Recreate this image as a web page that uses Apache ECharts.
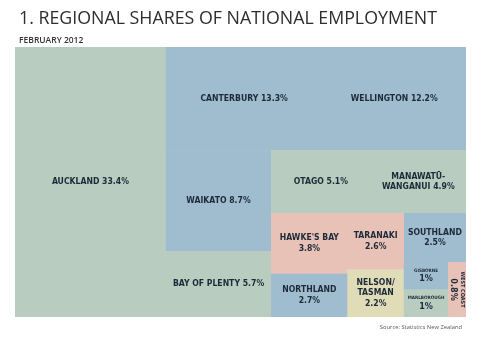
<!DOCTYPE html>
<html>
<head>
<meta charset="utf-8">
<script src="https://cdn.jsdelivr.net/npm/echarts@6/dist/echarts.min.js"></script>
<style>
html,body{margin:0;padding:0;background:#fff;}
#chart{width:495px;height:349px;}
</style>
</head>
<body>
<div id="chart"></div>
<script>
// ---- data ----
const regions = ['AUCKLAND', 'CANTERBURY', 'WELLINGTON', 'WAIKATO', 'BAY OF PLENTY', 'OTAGO',
  'MANAWATŪ-\nWANGANUI', "HAWKE'S BAY", 'NORTHLAND', 'TARANAKI', 'NELSON/\nTASMAN', 'SOUTHLAND',
  'GISBORNE', 'MARLBOROUGH', 'WEST COAST'];
const shares = [33.4, 13.3, 12.2, 8.7, 5.7, 5.1, 4.9, 3.8, 2.7, 2.6, 2.2, 2.5, 1, 1, 0.8];
const valueSep = [' ', ' ', ' ', ' ', ' ', ' ', ' ', '\n', '\n', '\n', '\n', '\n', '\n', '\n', '\n'];
const colourGroup = ['green', 'blue', 'blue', 'blue', 'green', 'green', 'green', 'pink', 'blue',
  'pink', 'yellow', 'blue', 'blue', 'green', 'pink'];
// nesting of regions (indices) that the treemap lays out
const nesting = [0, [[1, 2], [[3, 4], [[5, 6], [[[7, 8], [9, 10]], [11, [12, 13, 14]]]]]]];

const palette = { green: '#b8ccc0', blue: '#9fbdcf', pink: '#e8c2b7', yellow: '#e0dcb7' };
const FONT = 'Liberation Sans Narrow, DejaVu Sans Condensed, sans-serif';
const LH = 10.5;              // line height of plain labels
const SMALL_LH = 6, VAL_LH = 10, WC_LH = 7;

function leaf(i) {
  const name = regions[i];
  let blockH;
  if (name === 'GISBORNE' || name === 'MARLBOROUGH') blockH = SMALL_LH + VAL_LH;
  else if (name === 'WEST COAST') blockH = WC_LH + VAL_LH;
  else blockH = (name + valueSep[i]).split('\n').length * LH;
  const col = palette[colourGroup[i]];
  const node = {
    name: name,
    value: shares[i],
    itemStyle: { color: col, borderColor: col },
    label: {
      offset: [0, -blockH / 2],
      formatter: function (p) {
        if (p.name === 'GISBORNE' || p.name === 'MARLBOROUGH') return '{s|' + p.name + '}\n{v|' + p.value + '%}';
        if (p.name === 'WEST COAST') return '{w|' + p.name + '}\n{v|' + p.value + '%}';
        return p.name + valueSep[i] + p.value + '%';
      }
    }
  };
  if (name === 'WEST COAST') node.label.rotate = -90;
  return node;
}
function build(spec) {
  if (typeof spec === 'number') return leaf(spec);
  return { name: '', children: spec.map(build) };
}
const treeData = nesting.map(build);

const chart = echarts.init(document.getElementById('chart'), null, { renderer: 'canvas' });
chart.setOption({
  animation: false,
  title: [
    { text: '1. REGIONAL SHARES OF NATIONAL EMPLOYMENT', left: 14, top: 5,
      textStyle: { fontFamily: 'Open Sans', fontWeight: 'normal', fontSize: 17.8, color: '#2e2e2e' } },
    { text: 'FEBRUARY 2012', left: 14, top: 31,
      textStyle: { fontFamily: 'Open Sans', fontWeight: 600, fontSize: 8.5, color: '#333' } },
    { text: 'Source: Statistics New Zealand', right: 28, top: 319,
      textStyle: { fontFamily: 'Open Sans', fontWeight: 'normal', fontSize: 5.8, color: '#555' } }
  ],
  series: [{
    type: 'treemap',
    left: 15, top: 47, width: 451, height: 270,
    roam: false,
    nodeClick: false,
    sort: false,
    squareRatio: 1.33,
    breadcrumb: { show: false },
    visibleMin: 0,
    itemStyle: { borderWidth: 0, gapWidth: 0, borderColor: '#c9d6d4' },
    upperLabel: { show: false },
    label: {
      show: true,
      position: ['50%', '50%'],
      align: 'center',
      verticalAlign: 'top',
      padding: 0,
      overflow: 'none',
      fontFamily: FONT,
      fontWeight: 'bold',
      fontSize: 8.6,
      lineHeight: LH,
      color: '#1d2a38',
      rich: {
        s: { fontSize: 4.6, fontWeight: 'bold', lineHeight: SMALL_LH, color: '#1d2a38', fontFamily: FONT },
        w: { fontSize: 5.5, fontWeight: 'bold', lineHeight: WC_LH, color: '#1d2a38', fontFamily: FONT },
        v: { fontSize: 9, fontWeight: 'bold', lineHeight: VAL_LH, color: '#1d2a38', fontFamily: FONT }
      }
    },
    data: treeData
  }]
});
</script>
</body>
</html>
